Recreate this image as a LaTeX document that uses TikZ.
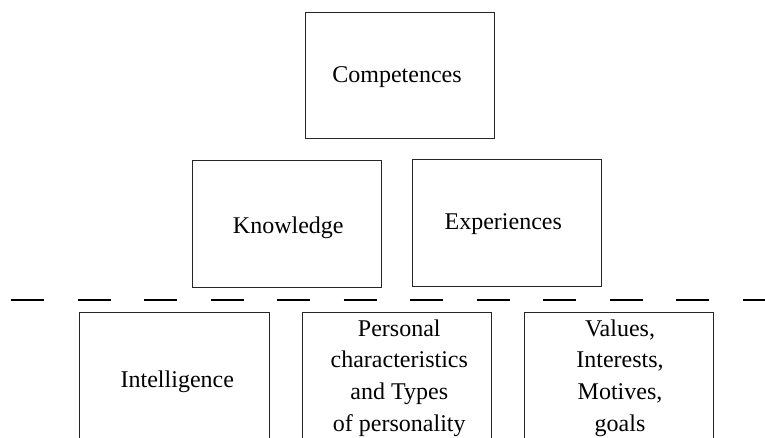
\documentclass[tikz,border=0pt]{standalone}
\usepackage{fontspec}
\setmainfont{Liberation Serif}
\begin{document}
\begin{tikzpicture}[x=1pt,y=-1pt,
  box/.style={draw=black!85,line width=1pt,inner sep=0pt,anchor=north west},
  label/.style={inner sep=0pt,align=center,font=\fontsize{24}{31.7}\selectfont},
  divider/.style={line width=2pt,dash pattern=on 33pt off 33.5pt}]
\useasboundingbox (0,0) rectangle (765,438);
\clip (0,0) rectangle (765,438);
% upper level
\node[box,minimum width=189pt,minimum height=126.5pt] (comp) at (305,11.7) {};
\node[box,minimum width=189pt,minimum height=126.7pt] (know) at (191.7,160.3) {};
\node[box,minimum width=189pt,minimum height=126.7pt] (exp) at (412.3,159) {};
\node[label,anchor=base] (tcomp) at (397,82.7) {Competences};
\node[label,anchor=base] (tknow) at (288.3,233.3) {Knowledge};
\node[label,anchor=base] (texp) at (503.3,230) {Experiences};
% dividing line
\coordinate (dl) at (11,299.5);
\coordinate (dr) at (770,299.5);
\draw[divider] (dl) -- (dr);
% lower level
\node[box,minimum width=189.4pt,minimum height=128pt] (intel) at (79.3,311.7) {};
\node[box,minimum width=189.3pt,minimum height=128pt] (pers) at (301.7,311.7) {};
\node[box,minimum width=189pt,minimum height=128pt] (vals) at (524,311.7) {};
\node[label,anchor=base] (tintel) at (177.3,387.3) {Intelligence};
\node[label,anchor=north] (tpers) at (399.3,319.3) {Personal\\characteristics\\and Types\\of personality};
\node[label,anchor=north] (tvals) at (620,319.3) {Values,\\Interests,\\Motives,\\goals};
\end{tikzpicture}
\end{document}
